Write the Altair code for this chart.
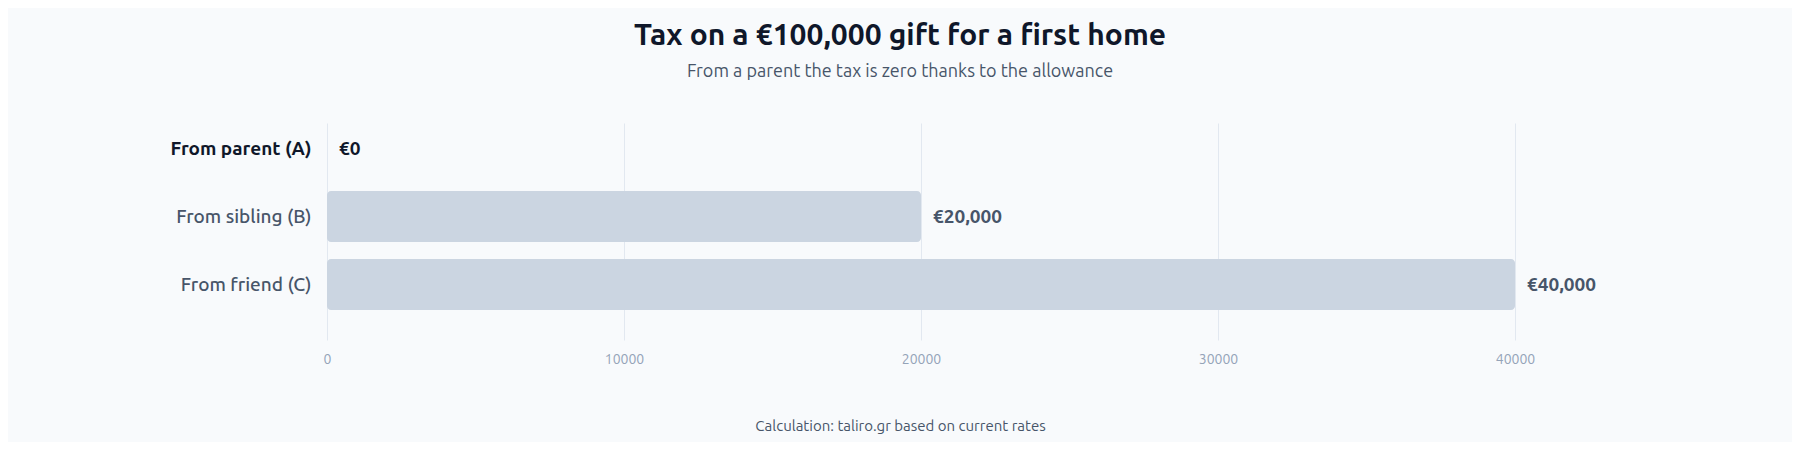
import altair as alt
import pandas as pd

categories = ["From parent (A)", "From sibling (B)", "From friend (C)"]
tax_values = [0, 20000, 40000]
highlight = [True, False, False]

title_text = "Tax on a €100,000 gift for a first home"
subtitle_text = "From a parent the tax is zero thanks to the allowance"
footer_text = "Calculation: taliro.gr based on current rates"

df = pd.DataFrame({"category": categories, "tax": tax_values, "highlight": highlight})

FONT = "Ubuntu, Noto Sans, sans-serif"

y_enc = alt.Y(
    "category:N",
    sort=None,
    scale=alt.Scale(paddingInner=0.25, paddingOuter=0.22, align=0),
    axis=alt.Axis(
        title=None,
        domain=False,
        ticks=False,
        grid=False,
        labelPadding=16,
        labelFontSize=19,
        labelFont=FONT,
        labelFontWeight={"condition": {"test": "datum.value === 'From parent (A)'", "value": "bold"}, "value": 500},
        labelColor={"condition": {"test": "datum.value === 'From parent (A)'", "value": "#0f172a"}, "value": "#475569"},
    ),
)

x_enc = alt.X(
    "tax:Q",
    scale=alt.Scale(domain=[0, 40000]),
    axis=alt.Axis(
        title=footer_text,
        titleFont=FONT,
        titleFontSize=15,
        titleFontWeight="normal",
        titleColor="#475569",
        titleX=573,
        titleY=90,
        titleAlign="center",
        titleBaseline="alphabetic",
        domain=False,
        ticks=False,
        format="d",
        values=[0, 10000, 20000, 30000, 40000],
        labelFont=FONT,
        labelFontSize=14,
        labelColor="#94a3b8",
        labelPadding=12,
        labelFlush=False,
        labelOverlap=False,
        grid=True,
        gridColor="#e2e8f0",
        gridWidth=1,
    ),
)

bars = alt.Chart(df).mark_bar(color="#cbd5e1", cornerRadius=4).encode(x=x_enc, y=y_enc)

labels = (
    alt.Chart(df)
    .transform_calculate(label="'€' + format(datum.tax, ',')")
    .mark_text(align="left", baseline="middle", dx=12, fontSize=19, fontWeight="bold", font=FONT)
    .encode(
        x="tax:Q",
        y=alt.Y("category:N", sort=None),
        text="label:N",
        color=alt.condition("datum.highlight", alt.value("#0f172a"), alt.value("#475569")),
    )
)

chart = (
    alt.layer(bars, labels)
    .properties(
        width=1188,
        height=217,
        background="#f8fafc",
        padding={"left": 319, "top": 115, "right": 277, "bottom": 102},
        autosize=alt.AutoSizeParams(type="none"),
        title=alt.TitleParams(
            text=title_text,
            subtitle=subtitle_text,
            anchor="middle",
            frame="group",
            dx=-21,
            offset=42,
            font=FONT,
            fontSize=30,
            fontWeight="bold",
            color="#0f172a",
            subtitleFont=FONT,
            subtitleFontSize=18,
            subtitleColor="#475569",
            subtitlePadding=12,
        ),
    )
    .configure_view(stroke=None)
)

chart.save("out.html", embed_options={"renderer": "svg", "actions": False})
